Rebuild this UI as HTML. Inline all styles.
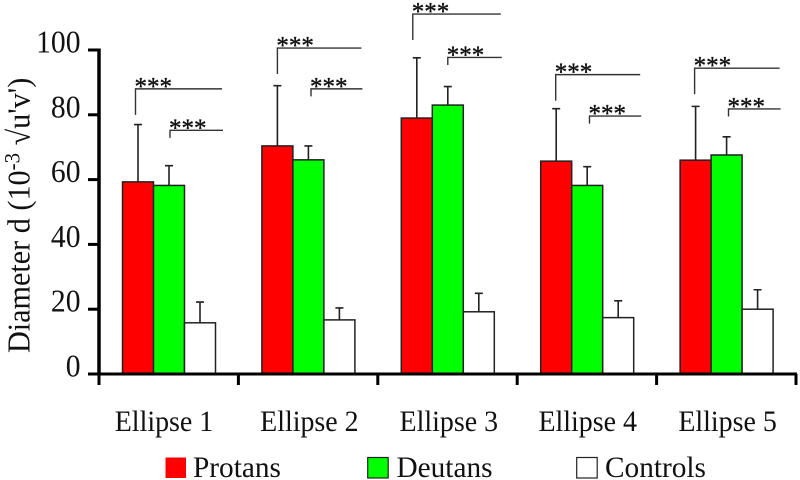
<!DOCTYPE html>
<html lang="en">
<head>
<meta charset="utf-8">
<title>Diameter d by ellipse</title>
<style>
html,body{margin:0;padding:0;background:#fff;width:800px;height:480px;overflow:hidden}
svg{display:block}
text{font-family:"Liberation Serif","DejaVu Serif",serif;fill:#111}
</style>
</head>
<body>
<svg id="chart" xmlns="http://www.w3.org/2000/svg" width="800" height="480" viewBox="0 0 800 480">
  <text transform="translate(29.5,353) rotate(-90) scale(0.952,1)" font-size="31.7">Diameter d (10<tspan font-size="22" dy="-10">-3</tspan><tspan dy="10"> √u'v')</tspan></text>
</svg>
<script>
const categories = ['Ellipse 1', 'Ellipse 2', 'Ellipse 3', 'Ellipse 4', 'Ellipse 5'];
const yTicks = [0, 20, 40, 60, 80, 100];
const seriesNames = ['Protans', 'Deutans', 'Controls'];
const protans = [59.3, 70.4, 79, 65.7, 66];
const deutans = [58.2, 66.1, 83, 58.2, 67.6];
const controls = [15.8, 16.7, 19.2, 17.4, 20];
const protansErrTop = [77, 89, 97.6, 81.9, 82.6];
const deutansErrTop = [64.3, 70.4, 88.7, 64, 73.2];
const controlsErrTop = [22.2, 20.4, 24.9, 22.6, 26];
const outerBracketLevel = [88, 100.6, 111.1, 92.4, 94.4];
const innerBracketLevel = [75.2, 88, 97.7, 79.6, 81.8];
const significance = '***';

const svg = document.getElementById('chart');
const NS = 'http://www.w3.org/2000/svg';
const AX_X = 99, AX_Y0 = 374, AX_Y100 = 50, BAND = 139.4, BAR_W = 31, BAR_OFF = 23.5;
const y = v => AX_Y0 - (v - yTicks[0]) * (AX_Y0 - AX_Y100) / (yTicks[yTicks.length - 1] - yTicks[0]);
const bandX = i => AX_X + BAND * i;
const barX = (g, s) => bandX(g) + BAR_OFF + BAR_W * s;
const barCx = (g, s) => barX(g, s) + BAR_W / 2;

function make(tag, attrs, text) {
  const e = document.createElementNS(NS, tag);
  for (const k in attrs) e.setAttribute(k, attrs[k]);
  if (text !== undefined) e.textContent = text;
  svg.appendChild(e);
  return e;
}
const fills = ['#ff0000', '#00ff00', '#ffffff'];
const values = [protans, deutans, controls];
const errTops = [protansErrTop, deutansErrTop, controlsErrTop];
const seriesKeys = ['protans', 'deutans', 'controls'];

// error bars and bars
categories.forEach((cat, g) => {
  values.forEach((vals, s) => {
    const cx = barCx(g, s);
    const err = make('path', {
      d: `M${cx} ${y(vals[g])}V${y(errTops[s][g])}M${cx - 4} ${y(errTops[s][g])}H${cx + 4}`,
      fill: 'none', stroke: '#222', 'stroke-width': 1.6
    });
    
    
    const bar = make('rect', {
      x: barX(g, s), y: y(vals[g]), width: BAR_W, height: AX_Y0 - y(vals[g]),
      fill: fills[s], stroke: '#222', 'stroke-width': 1.5
    });
    
    
  });
});

// significance brackets
const outerNudge = g => [-2.5, 0, -4, -0.5, -1][g];
const innerNudge = g => [1, 2.6, 0, 2.3, 1.9][g];
categories.forEach((cat, g) => {
  const ox = barCx(g, 0) + outerNudge(g), ix = barCx(g, 1) + innerNudge(g);
  const end = bandX(g) + 123;
  const oy = y(outerBracketLevel[g]), iy = y(innerBracketLevel[g]);
  const outer = make('path', {
    d: `M${ox} ${oy + 26}V${oy}H${end}`, fill: 'none', stroke: '#333', 'stroke-width': 1.4
  });
  
  
  const inner = make('path', {
    d: `M${ix} ${iy + 7.5}V${iy}H${end + 1}`, fill: 'none', stroke: '#333', 'stroke-width': 1.4
  });
  
  
  const st1 = make('text', { x: ox - 1, y: oy + 5.5, 'font-size': 25, stroke: '#111', 'stroke-width': 0.35 }, significance);
  
  
  const st2 = make('text', { x: ix - 1, y: iy + 5.5, 'font-size': 25, stroke: '#111', 'stroke-width': 0.35 }, significance);
  
  
});

// y axis
const yAxis = make('rect', { x: AX_X - 1.75, y: y(100) - 1.5, width: 3.5, height: AX_Y0 - y(100) + 3, fill: '#000' });


yTicks.forEach(t => {
  const tk = make('rect', { x: 88, y: y(t) - 1.5, width: 11, height: 3, fill: '#000' });
  
  
  const txt = String(t);
  const lb = make('text', { x: 80.5, y: y(t) + 2.5, 'font-size': 32, 'text-anchor': 'end', textLength: txt.length * 14.8, lengthAdjust: 'spacingAndGlyphs' }, txt);
  
  
});

// x axis
const xAxis = make('rect', { x: 88, y: AX_Y0 - 1.5, width: 709, height: 3, fill: '#000' });


for (let i = 0; i <= categories.length; i++) {
  const tk = make('rect', { x: bandX(i) - 1.5, y: AX_Y0, width: 3, height: 11, fill: '#000' });
  
  
}
const labelNudge = g => [-6, 0, 0, -0.5, 0][g];
categories.forEach((cat, g) => {
  const lb = make('text', { x: barCx(g, 1) + 1 + labelNudge(g), y: 431, 'font-size': 30, 'text-anchor': 'middle', textLength: 98.5, lengthAdjust: 'spacingAndGlyphs' }, cat);
  
  
});

// legend
const swatchLeft = s => [165.5, 367.7, 576.7][s];
const labelLeft = s => [193, 396.5, 605][s];
seriesNames.forEach((name, s) => {
  const sw = make('rect', { x: swatchLeft(s), y: 457.5, width: 20.5, height: 20.5, fill: fills[s], stroke: s === 0 ? 'none' : '#222', 'stroke-width': 1.2 });
  
  
  const lb = make('text', { x: labelLeft(s), y: 477, 'font-size': 29.3 }, name);
  
  
});
</script>
</body>
</html>
